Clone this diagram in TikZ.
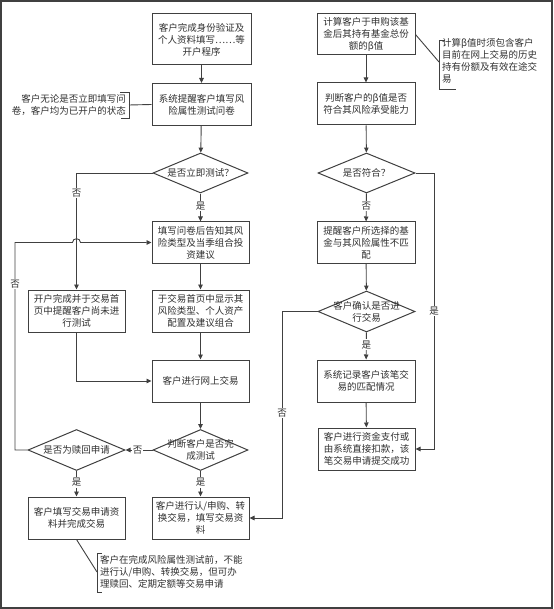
\documentclass[tikz,border=0pt]{standalone}
\usepackage{fontspec}
\setmainfont{Noto Sans CJK SC}
\usetikzlibrary{shapes.geometric,arrows.meta}
\definecolor{lc}{HTML}{404040}
\definecolor{tc}{HTML}{303030}
\newcommand\fsz{\fontsize{9.5pt}{12pt}\selectfont}
\tikzset{
  ln/.style={draw=lc, line width=0.9pt},
  box/.style={rectangle, draw=lc, line width=1pt, fill=white, inner sep=0pt, align=center, font=\fsz, text=tc},
  dia/.style={diamond, draw=lc, line width=1pt, fill=white, inner sep=0pt},
  txt/.style={align=center, font=\fsz, text=tc, inner sep=0pt},
  lbl/.style={fill=white, inner sep=1pt, font=\fsz, text=tc},
  arr/.style={ln, -{Triangle[length=5pt,width=4.5pt]}},
}
\begin{document}
\begin{tikzpicture}[x=1pt,y=-1pt]
\useasboundingbox (0,0) rectangle (553,609);
\draw[lc, line width=1.5pt] (1,1) rectangle (552,608);

% main column
\node[box, minimum width=99pt, minimum height=51pt] (b1) at (201.5,39.5) {客户完成身份验证及\\个人资料填写……等\\开户程序};
\node[box, minimum width=99pt, minimum height=42pt] (b2) at (201.5,104.5) {系统提醒客户填写风\\险属性测试问卷};
\node[dia, minimum width=95pt, minimum height=40pt] (d1) at (200.5,173) {};
\node[txt] (d1t) at (d1) {是否立即测试？};
\node[box, minimum width=97pt, minimum height=41pt] (b3) at (200.5,242.5) {填写问卷后告知其风\\险类型及当季组合投\\资建议};
\node[box, minimum width=97pt, minimum height=42pt] (b4) at (200.5,311) {于交易首页中显示其\\风险类型、个人资产\\配置及建议组合};
\node[box, minimum width=97pt, minimum height=42pt] (b5) at (200.5,381) {客户进行网上交易};
\node[dia, minimum width=95pt, minimum height=41pt] (d2) at (200.5,450) {};
\node[txt] (d2t) at (d2) {判断客户是否完\\成测试};
\node[box, minimum width=97pt, minimum height=42pt] (b6) at (200.5,518) {客户进行认/申购、转\\换交易，填写交易资\\料};

% left column
\node[box, minimum width=97pt, minimum height=42pt] (b8) at (76.5,311) {开户完成并于交易首\\页中提醒客户尚未进\\行测试};
\node[dia, minimum width=97pt, minimum height=41pt] (d3) at (76.5,450) {};
\node[txt] (d3t) at (d3) {是否为赎回申请};
\node[box, minimum width=97pt, minimum height=42pt] (b7) at (76.5,518) {客户填写交易申请资\\料并完成交易};

% right column
\node[box, minimum width=98pt, minimum height=41pt] (r1) at (366,34.5) {计算客户于申购该基\\金后其持有基金总份\\额的β值};
\node[box, minimum width=98pt, minimum height=42pt] (r2) at (366,104) {判断客户的β值是否\\符合其风险承受能力};
\node[dia, minimum width=97pt, minimum height=40pt] (d4) at (366.5,173) {};
\node[txt] (d4t) at (d4) {是否符合？};
\node[box, minimum width=98pt, minimum height=41pt] (r3) at (366,242.5) {提醒客户所选择的基\\金与其风险属性不匹\\配};
\node[dia, minimum width=97pt, minimum height=41pt] (d5) at (366.5,311.5) {};
\node[txt] (d5t) at (d5) {客户确认是否进\\行交易};
\node[box, minimum width=98pt, minimum height=42pt] (r4) at (366,381) {系统记录客户该笔交\\易的匹配情况};
\node[box, minimum width=97pt, minimum height=42pt] (r5) at (366.5,449) {客户进行资金支付或\\由系统直接扣款，该\\笔交易申请提交成功};

% notes
\node[txt, align=right, anchor=east] (n1) at (126,105) {客户无论是否立即填写问\\卷，客户均为已开户的状态};
\draw[ln] (120,92) -- (129,92) -- (129,118) -- (121,118);
\coordinate (n1b) at (129,105);
\node[txt, align=left, anchor=north west] (n2) at (442,38) {计算β值时须包含客户\\目前在网上交易的历史\\持有份额及有效在途交\\易};
\draw[ln] (445,40) -- (439,40) -- (439,89) -- (456,89);
\coordinate (n2b) at (439,62);
\node[txt, align=left, anchor=north west] (n3) at (100,555) {客户在完成风险属性测试前，不能\\进行认/申购、转换交易，但可办\\理赎回、定期定额等交易申请};
\draw[ln] (102,553) -- (97,553) -- (97,592) -- (102,592);
\coordinate (n3b) at (97,572);
\draw[ln] (n1b) -- (b2.west);
\draw[ln] (r1.east) -- (n2b);
\draw[ln] (b7.south) -- (n3b);

% connectors main
\draw[arr] (b1) -- (b2);
\draw[arr] (b2) -- (d1);
\draw[arr] (d1) -- node[lbl, pos=0.45] {是} (b3);
\draw[arr] (b3) -- (b4);
\draw[arr] (b4) -- (b5);
\draw[arr] (b5) -- (d2);
\draw[arr] (d2) -- node[lbl, pos=0.45] {是} (b6);
\draw[arr] (d2) -- node[lbl, pos=0.55] {否} (d3);
\draw[arr] (d3) -- node[lbl, pos=0.45] {是} (b7);
\coordinate (c1) at (76.5,173);
\draw[arr] (d1.west) -- (c1) -- node[lbl, pos=0.17] {否} (b8.north);
\coordinate (c2) at (15,450);
\coordinate (c3) at (15,242.5);
\draw[arr] (d3.west) -- (c2) -- node[lbl, pos=0.8] {否} (c3) -- (72.5,242.5) .. controls (72.5,237.5) and (80.5,237.5) .. (80.5,242.5) -- (b3.west);
\draw[arr] (b8.south) |- (b5.west);

% connectors right
\draw[arr] (r1) -- (r2);
\draw[arr] (r2) -- (d4);
\draw[arr] (d4) -- node[lbl, pos=0.45] {否} (r3);
\draw[arr] (r3) -- (d5);
\draw[arr] (d5) -- node[lbl, pos=0.45] {是} (r4);
\draw[arr] (r4) -- (r5);
\coordinate (c4) at (434,173);
\draw[arr] (d4.east) -- (c4) -- node[lbl, pos=0.5] {是} (434,449) -- (r5.east);
\coordinate (c5) at (282,311.5);
\draw[arr] (d5.west) -- (c5) -- node[lbl, pos=0.49] {否} (282,518) -- (b6.east);
\end{tikzpicture}
\end{document}
